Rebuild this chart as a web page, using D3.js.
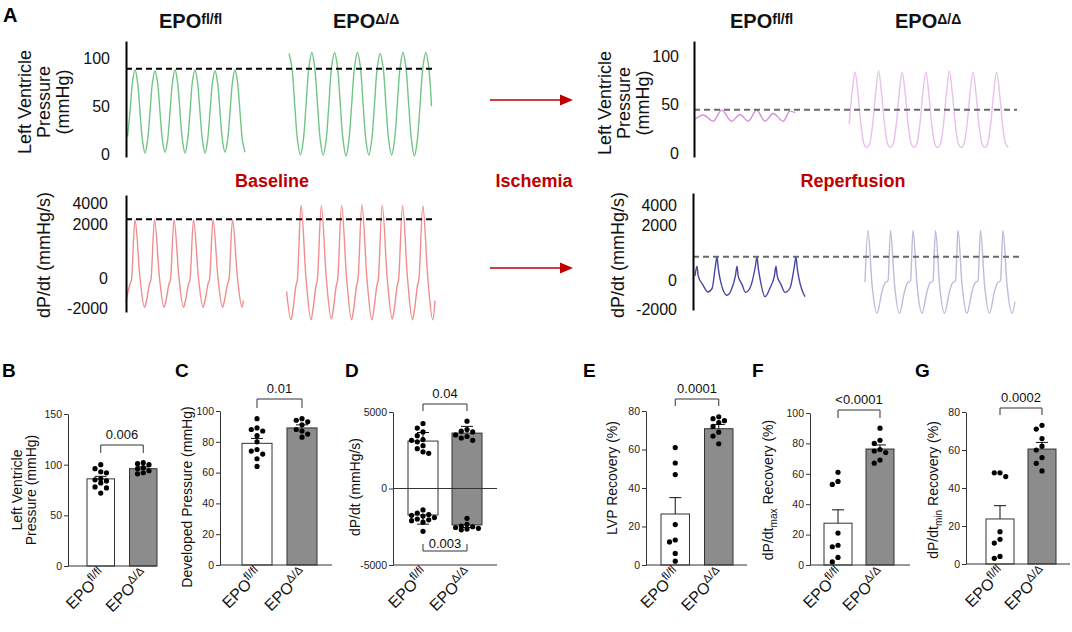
<!DOCTYPE html>
<html>
<head>
<meta charset="utf-8">
<script src="https://cdn.jsdelivr.net/npm/d3@7"></script>
<style>
  body { margin: 0; background: #fff; }
  svg { display: block; }
</style>
</head>
<body>
<svg id="fig" width="1072" height="632"></svg>
<script>
const FONT = "Arial, 'Liberation Sans', sans-serif";
const RED = "#c00000";

// ---------- Panel A: traces (time in ms, values in mmHg or mmHg/s) ----------
const lvpTicks = [0, 50, 100];
const dpdtTicks = [-2000, 0, 2000, 4000];

// baseline LV pressure, uniform samples
const baseLvpFlStart = 7.5, baseLvpFlStep = 12.5;
const baseLvpFl = [18, 44, 75,
  88, 75, 44, 14, 1, 14, 44, 75,
  87, 75, 44, 14, 2, 14, 44, 75,
  88, 75, 44, 14, 1, 14, 44, 76,
  88, 75, 44, 14, 1, 14, 44, 75,
  87, 75, 44, 14, 2, 14, 44, 75,
  88, 75, 44, 14, 2];
const baseLvpKoStart = 815, baseLvpKoStep = 14.25;
const baseLvpKo = [105, 91, 52, 14, -1, 14, 52, 91,
  106, 91, 52, 14, -1, 14, 52, 92,
  106, 91, 52, 14, -2, 14, 52, 91,
  106, 92, 52, 14, -1, 14, 52, 91,
  105, 91, 52, 14, -1, 14, 52, 91,
  106, 91, 52, 14, -2, 14, 52, 91,
  106, 91, 50];

// reperfusion LV pressure
const reperLvpFl = [[5, 35], [46, 39.5], [96, 33], [138, 44.5], [188, 33], [230, 40], [271, 33],
  [313, 44.5], [355, 33], [396, 41], [446, 33], [480, 43.5], [505, 42]];
const reperLvpKoStart = 775.5, reperLvpKoStep = 14.75;
const reperLvpKo = [30, 62,
  84, 62, 30, 10, 6, 10, 30, 62,
  85, 62, 30, 10, 6, 10, 30, 62,
  84, 62, 30, 10, 6, 10, 30, 62,
  84, 62, 30, 10, 6, 10, 30, 62,
  85, 62, 30, 10, 6, 10, 30, 62,
  84, 62, 30, 10, 6, 10, 30, 62,
  84, 62, 30, 10, 6];

// baseline dP/dt
const baseDpdtFl = [[0, -1600], [10, -900], [20, -400], [27.5, -100], [45, 2400], [70, 0], [92.5, -1950],
  [102.5, -1500], [117.5, -400], [125, -100], [142.5, 2400], [167.5, 0], [190, -1950],
  [200, -1500], [215, -400], [222.5, -100], [240, 2400], [265, 0], [287.5, -1950],
  [297.5, -1500], [312.5, -400], [320, -100], [337.5, 2400], [362.5, 0], [385, -1950],
  [395, -1500], [410, -400], [417.5, -100], [435, 2400], [460, 0], [482.5, -1950],
  [492.5, -1500], [507.5, -400], [515, -100], [532.5, 2400], [557.5, 0], [580, -1950], [587, -1500]];
const baseDpdtKo = [[803, -900], [825, -2800], [835, -2100], [850, -500], [857, -100], [875, 3800],
  [900, 0], [925, -2800], [935, -2100], [950, -500], [957, -100], [976.5, 3750],
  [1001.5, 0], [1026.5, -2750], [1036.5, -2100], [1051.5, -500], [1058.5, -100], [1078, 3800],
  [1103, 0], [1128, -2800], [1138, -2100], [1153, -500], [1160, -100], [1179.5, 3850],
  [1204.5, 0], [1229.5, -2800], [1239.5, -2100], [1254.5, -500], [1261.5, -100], [1281, 3800],
  [1306, 0], [1331, -2750], [1341, -2100], [1356, -500], [1363, -100], [1382.5, 3800],
  [1407.5, 0], [1432.5, -2800], [1442.5, -2100], [1457.5, -500], [1464.5, -100], [1484, 3750],
  [1509, 0], [1534, -2800], [1545, -1500]];

// reperfusion dP/dt
const reperDpdtFl = [[10, 150], [20, 500], [26, 150], [50, -350], [75, -830], [95, -600],
  [112, 500], [120, 850], [126, 450], [135, 50], [170, -1050], [195, -550],
  [212, 150], [220, 500], [226, 150], [245, -300], [262, -850], [285, -550],
  [312, 500], [320, 850], [326, 450], [335, 50], [360, -1150], [385, -550],
  [407, 150], [415, 500], [421, 150], [440, -300], [460, -850], [485, -550],
  [507, 500], [515, 850], [521, 450], [530, 50], [560, -1150]];
const reperDpdtKo = [[860, -150], [875, 1800],
  [895, -300], [920, -2300], [945, -800], [960, -200], [975, -50], [987.5, 1800],
  [1007.5, -300], [1032.5, -2300], [1057.5, -800], [1072.5, -200], [1087.5, -50], [1100, 1800],
  [1120, -300], [1145, -2300], [1170, -800], [1185, -200], [1200, -50], [1212.5, 1800],
  [1232.5, -300], [1257.5, -2300], [1282.5, -800], [1297.5, -200], [1312.5, -50], [1325, 1800],
  [1345, -300], [1370, -2300], [1395, -800], [1410, -200], [1425, -50], [1437.5, 1800],
  [1457.5, -300], [1482.5, -2300], [1507.5, -800], [1522.5, -200], [1537.5, -50], [1550, 1800],
  [1570, -300], [1595, -2300], [1610, -1500]];

// reference (dashed) levels
const baseLvpRef = 89, reperLvpRef = 45, baseDpdtRef = 2450, reperDpdtRef = 850;

// ---------- Panels B-G: individual hearts ----------
const groups = ["fl", "ko"];
const groupSup = { fl: "fl/fl", ko: "\u0394/\u0394" };

const lvpFl = [100, 96, 93, 92, 86, 85, 84, 82, 78, 77, 72];
const lvpKo = [102, 101, 100, 97, 96, 94, 92, 91];
const lvpMean = [86, 96], lvpSem = [2.5, 1.8];

const devFl = [95, 89, 88, 87, 84, 80, 75, 74, 72, 69, 64];
const devKo = [95, 94, 93, 91, 88, 87, 85, 83];
const devMean = [79, 89], devSem = [3.2, 2];

const dMaxFl = [4250, 3950, 3700, 3450, 3200, 3150, 3050, 2800, 2600, 2400, 2300];
const dMaxKo = [4400, 3850, 3750, 3700, 3500, 3400, 3300, 3150];
const dMinFl = [-1400, -1600, -1700, -1750, -1800, -1900, -2000, -2050, -2100, -2200, -2800];
const dMinKo = [-1950, -2350, -2450, -2500, -2550, -2600, -2650, -2700];
const dMaxMean = [3100, 3620], dMaxSem = [560, 440];
const dMinMean = [-1730, -2380], dMinSem = [600, 170];

const lvpRecFl = [61, 53, 47, 21, 13, 12, 6, 2];
const lvpRecKo = [77, 76, 75, 74, 72, 69, 67, 63];
const lvpRecMean = [26.5, 70.8], lvpRecSem = [8.5, 2.2];

const maxRecFl = [61, 55, 53, 21, 13, 12, 5, 2];
const maxRecKo = [90, 82, 80, 76, 75, 74, 69, 67];
const maxRecMean = [27.5, 76.3], maxRecSem = [8.8, 2.7];

const minRecFl = [48, 48, 46, 17, 13, 11, 4, 3];
const minRecKo = [73, 71, 66, 62, 60, 56, 53, 49];
const minRecMean = [23.7, 60.5], minRecSem = [7, 3.5];

const svg = d3.select("#fig").attr("font-family", FONT);

// text with super/subscript pieces
function rich(sel, parts, size, supShift, supScale) {
  let shift = 0;
  parts.forEach(([s, kind]) => {
    const t = sel.append("tspan").text(s);
    let target = 0;
    if (kind === "sup") { t.attr("font-size", size * (supScale || 0.7)); target = -size * (supShift || 0.4); }
    if (kind === "sub") { t.attr("font-size", size * 0.72); target = size * 0.3; }
    if (target !== shift) t.attr("dy", target - shift);
    shift = target;
  });
  return sel;
}

function vLabel(x, y, parts, size) {
  const t = svg.append("text")
    .attr("transform", `translate(${x},${y}) rotate(-90)`)
    .attr("text-anchor", "middle").attr("dy", "0.35em")
    .attr("font-size", size).attr("fill", "#111");
  rich(t, parts, size);
}

// ---------- Panel A ----------
svg.append("text").attr("x", 3).attr("y", 22).attr("font-size", 20)
  .attr("font-weight", "bold").text("A");

[[159, "fl"], [333, "ko"], [730, "fl"], [895, "ko"]].forEach(([x, k]) => {
  const t = svg.append("text").attr("x", x).attr("y", 28)
    .attr("font-size", 20).attr("font-weight", "bold").attr("fill", "#111");
  rich(t, [["EPO"], [groupSup[k], "sup"]], 20, 0.22);
});

function tracePanel(c) {
  const y = d3.scaleLinear().domain(c.yDomain).range(c.yRange);
  const x = d3.scaleLinear().domain([0, 1000]).range([c.axisX, c.axisX + 200]);
  const line = d3.line().x(d => x(d[0])).y(d => y(d[1])).curve(c.curve);

  c.traces.forEach(tr => {
    svg.append("path").datum(tr.data)
      .attr("fill", "none").attr("stroke", tr.color)
      .attr("stroke-width", 1.4).attr("d", line);
  });

  svg.append("line")
    .attr("x1", x(0)).attr("x2", x(c.refEnd))
    .attr("y1", y(c.ref)).attr("y2", y(c.ref))
    .attr("stroke", c.refColor).attr("stroke-width", 2)
    .attr("stroke-dasharray", "6,4");

  const ax = svg.append("g")
    .attr("transform", `translate(${c.axisX},0)`)
    .call(d3.axisLeft(y).tickValues(c.ticks).tickSize(0).tickSizeOuter(0)
      .tickPadding(c.pad).tickFormat(d => String(d)));
  ax.attr("font-family", FONT).attr("font-size", 16);
  ax.select(".domain").attr("stroke", "#000").attr("stroke-width", 2);
  ax.selectAll("text").attr("fill", "#111");

  c.label.forEach((s, i) => vLabel(c.labelX[i], c.labelY, [[s]], 18));
}

const uniform = (vals, start, step) => vals.map((v, i) => [start + i * step, v]);

tracePanel({
  axisX: 126, yDomain: [-3, 118], yRange: [157, 41], ticks: lvpTicks, pad: 16,
  curve: d3.curveCatmullRom,
  traces: [
    { data: uniform(baseLvpFl, baseLvpFlStart, baseLvpFlStep), color: "#72c586" },
    { data: uniform(baseLvpKo, baseLvpKoStart, baseLvpKoStep), color: "#72c586" }
  ],
  ref: baseLvpRef, refEnd: 1530, refColor: "#000",
  label: ["Left Ventricle", "Pressure", "(mmHg)"], labelX: [25, 44, 63], labelY: 102
});

tracePanel({
  axisX: 126, yDomain: [-2270, -2000, 0, 2000, 4000, 4760],
  yRange: [312, 308, 278, 224, 203, 195], ticks: dpdtTicks, pad: 18,
  curve: d3.curveMonotoneX,
  traces: [
    { data: baseDpdtFl, color: "#f08e8e" },
    { data: baseDpdtKo, color: "#f08e8e" }
  ],
  ref: baseDpdtRef, refEnd: 1545, refColor: "#000",
  label: ["dP/dt (mmHg/s)"], labelX: [44], labelY: 255
});

tracePanel({
  axisX: 694, yDomain: [-4, 116], yRange: [157, 41], ticks: lvpTicks, pad: 15,
  curve: d3.curveMonotoneX,
  traces: [
    { data: reperLvpFl, color: "#d68fd8" },
    { data: uniform(reperLvpKo, reperLvpKoStart, reperLvpKoStep), color: "#e8c2ea" }
  ],
  ref: reperLvpRef, refEnd: 1615, refColor: "#6a6a6a",
  label: ["Left Ventricle", "Pressure", "(mmHg)"], labelX: [605, 624, 643], labelY: 103
});

tracePanel({
  axisX: 693, yDomain: [-2070, -2000, 0, 2000, 4000, 5200],
  yRange: [310, 309, 280, 225, 205, 193], ticks: dpdtTicks, pad: 16,
  curve: d3.curveMonotoneX,
  traces: [
    { data: reperDpdtFl, color: "#4646a4" },
    { data: reperDpdtKo, color: "#bcbcda" }
  ],
  ref: reperDpdtRef, refEnd: 1650, refColor: "#6a6a6a",
  label: ["dP/dt (mmHg/s)"], labelX: [618], labelY: 255
});

// phase labels and arrows
[["Baseline", 272], ["Ischemia", 534], ["Reperfusion", 853]].forEach(([s, x]) => {
  svg.append("text").attr("x", x).attr("y", 187).attr("text-anchor", "middle")
    .attr("font-size", 18).attr("font-weight", "bold").attr("fill", RED).text(s);
});
[100, 268].forEach(yy => {
  svg.append("line").attr("x1", 490).attr("x2", 562).attr("y1", yy).attr("y2", yy)
    .attr("stroke", RED).attr("stroke-width", 1.6);
  svg.append("path").attr("d", `M560,${yy - 5.5}L573,${yy}L560,${yy + 5.5}Z`).attr("fill", RED);
});

// ---------- Panels B-G ----------
function swarm(vals, y, cx, r, maxOff) {
  const placed = [];
  const step = r * 2.2;
  const cands = [0];
  for (let k = 1; k * step <= maxOff + 0.01; k++) cands.push(-k * step, k * step);
  vals.map(v => y(v)).sort((a, b) => a - b).forEach(py => {
    let best = cands[0], bestD = -1;
    for (const off of cands) {
      const d = d3.min(placed, q => Math.hypot(q[0] - (cx + off), q[1] - py));
      if (d === undefined || d >= 2 * r + 0.6) { best = off; bestD = Infinity; break; }
      if (d > bestD) { bestD = d; best = off; }
    }
    placed.push([cx + best, py]);
  });
  return placed;
}

function barPanel(c) {
  const y = d3.scaleLinear().domain(c.domain).range([c.yBot, c.yTop]);
  const x = d3.scaleBand().domain(groups).range([c.barL, c.barR]).paddingInner(c.pad);
  const bw = x.bandwidth();
  const g = svg.append("g");

  c.sets.forEach(s => {
    groups.forEach((k, i) => {
      const m = s.mean[i];
      g.append("rect").attr("x", x(k)).attr("width", bw)
        .attr("y", Math.min(y(m), y(0))).attr("height", Math.abs(y(m) - y(0)))
        .attr("fill", i ? "#8c8c8c" : "#fff").attr("stroke", "#333").attr("stroke-width", 1);
    });
  });

  if (c.zeroLine) {
    g.append("line").attr("x1", c.x0).attr("x2", c.x1)
      .attr("y1", y(0)).attr("y2", y(0)).attr("stroke", "#333");
  }

  c.sets.forEach(s => {
    groups.forEach((k, i) => {
      const cx = x(k) + bw / 2, m = s.mean[i];
      const e = m + Math.sign(m) * s.sem[i];
      g.append("line").attr("x1", cx).attr("x2", cx).attr("y1", y(m)).attr("y2", y(e))
        .attr("stroke", "#111");
      g.append("line").attr("x1", cx - 6).attr("x2", cx + 6).attr("y1", y(e)).attr("y2", y(e))
        .attr("stroke", "#111");
      g.selectAll(null).data(swarm(s.pts[i], y, cx, 2.6, bw / 2 - 3.5)).enter()
        .append("circle").attr("cx", d => d[0]).attr("cy", d => d[1])
        .attr("r", 2.6).attr("fill", "#000");
    });
  });

  const ax = g.append("g").attr("transform", `translate(${c.x0},0)`)
    .call(d3.axisLeft(y).tickValues(c.ticks).tickSize(4).tickSizeOuter(0)
      .tickPadding(2).tickFormat(d => String(d)));
  ax.attr("font-family", FONT).attr("font-size", 10.5);
  ax.select(".domain").attr("stroke", "#333");
  ax.selectAll(".tick line").attr("stroke", "#333");
  ax.selectAll("text").attr("fill", "#222");

  g.append("line").attr("x1", c.x0).attr("x2", c.x1)
    .attr("y1", c.yBot).attr("y2", c.yBot).attr("stroke", "#333");

  groups.forEach(k => {
    const t = g.append("text")
      .attr("transform", `translate(${x(k) + bw / 2 + 6},${c.yBot + 10}) rotate(-45)`)
      .attr("text-anchor", "end").attr("font-size", 16).attr("fill", "#111");
    rich(t, [["EPO"], [groupSup[k], "sup"]], 16, 0.4, 0.72);
  });

  const xl = x("fl") + bw / 2, xr = x("ko") + bw / 2;
  c.brackets.forEach(b => {
    g.append("path")
      .attr("d", `M${xl},${b.y + b.dir * b.h}V${b.y}H${xr}V${b.y + b.dir * b.h}`)
      .attr("fill", "none").attr("stroke", "#333");
    g.append("text").attr("x", (xl + xr) / 2).attr("y", b.dir > 0 ? b.y - 6 : b.y - 3)
      .attr("text-anchor", "middle").attr("font-size", 13).attr("fill", "#111").text(b.text);
  });

  svg.append("text").attr("x", c.letter[1]).attr("y", 377).attr("font-size", 19)
    .attr("font-weight", "bold").text(c.letter[0]);
  c.ylab.forEach(l => vLabel(l.x, c.labelY, l.parts, 14));
}

const pair = (a, b) => [a, b];

barPanel({
  letter: ["B", 2], x0: 68, x1: 157, barL: 87, barR: 157, pad: 0.353,
  yTop: 414, yBot: 566, domain: [0, 150], ticks: [0, 50, 100, 150],
  sets: [{ mean: lvpMean, sem: lvpSem, pts: pair(lvpFl, lvpKo) }],
  ylab: [{ x: 17, parts: [["Left Ventricle"]] }, { x: 31, parts: [["Pressure (mmHg)"]] }],
  labelY: 490, brackets: [{ y: 445, h: 8, dir: 1, text: "0.006" }]
});

barPanel({
  letter: ["C", 175], x0: 220, x1: 332, barL: 242, barR: 317, pad: 0.333,
  yTop: 411, yBot: 565, domain: [0, 100], ticks: [0, 20, 40, 60, 80, 100],
  sets: [{ mean: devMean, sem: devSem, pts: pair(devFl, devKo) }],
  ylab: [{ x: 187, parts: [["Developed Pressure (mmHg)"]] }],
  labelY: 497, brackets: [{ y: 399, h: 9, dir: 1, text: "0.01" }]
});

barPanel({
  letter: ["D", 345], x0: 393, x1: 497, barL: 408, barR: 482, pad: 0.318,
  yTop: 412, yBot: 565, domain: [-5000, 5000], ticks: [-5000, 0, 5000], zeroLine: true,
  sets: [
    { mean: dMaxMean, sem: dMaxSem, pts: pair(dMaxFl, dMaxKo) },
    { mean: dMinMean, sem: dMinSem, pts: pair(dMinFl, dMinKo) }
  ],
  ylab: [{ x: 355, parts: [["dP/dt (mmHg/s)"]] }],
  labelY: 487,
  brackets: [{ y: 404, h: 7, dir: 1, text: "0.04" }, { y: 551, h: 7, dir: -1, text: "0.003" }]
});

barPanel({
  letter: ["E", 583], x0: 646, x1: 747, barL: 661, barR: 733, pad: 0.345,
  yTop: 411, yBot: 565, domain: [0, 80], ticks: [0, 20, 40, 60, 80],
  sets: [{ mean: lvpRecMean, sem: lvpRecSem, pts: pair(lvpRecFl, lvpRecKo) }],
  ylab: [{ x: 612, parts: [["LVP Recovery (%)"]] }],
  labelY: 478, brackets: [{ y: 399, h: 7, dir: 1, text: "0.0001" }]
});

barPanel({
  letter: ["F", 752], x0: 810, x1: 910, barL: 824, barR: 894, pad: 0.333,
  yTop: 413, yBot: 565, domain: [0, 100], ticks: [0, 20, 40, 60, 80, 100],
  sets: [{ mean: maxRecMean, sem: maxRecSem, pts: pair(maxRecFl, maxRecKo) }],
  ylab: [{ x: 768, parts: [["dP/dt"], ["max", "sub"], [" Recovery (%)"]] }],
  labelY: 490, brackets: [{ y: 410, h: 8, dir: 1, text: "<0.0001" }]
});

barPanel({
  letter: ["G", 915], x0: 966, x1: 1070, barL: 986, barR: 1056, pad: 0.333,
  yTop: 412, yBot: 564, domain: [0, 80], ticks: [0, 20, 40, 60, 80],
  sets: [{ mean: minRecMean, sem: minRecSem, pts: pair(minRecFl, minRecKo) }],
  ylab: [{ x: 933, parts: [["dP/dt"], ["min", "sub"], [" Recovery (%)"]] }],
  labelY: 490, brackets: [{ y: 408, h: 7, dir: 1, text: "0.0002" }]
});
</script>
</body>
</html>
